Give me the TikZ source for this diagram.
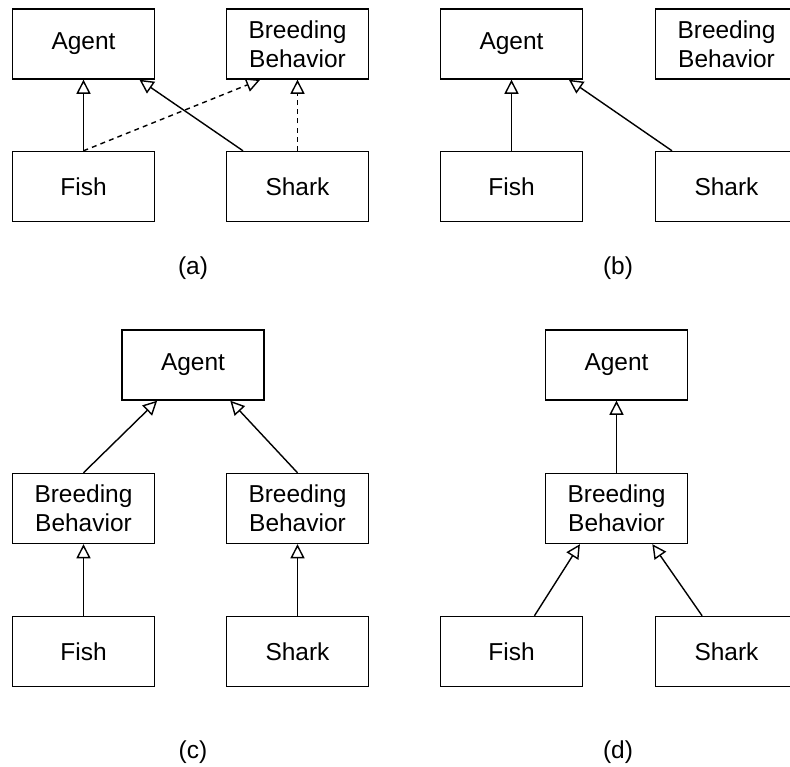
\documentclass[tikz,border=0pt]{standalone}
\usepackage{fontspec}
\setmainfont{Liberation Sans}
\usetikzlibrary{arrows.meta,calc}

\begin{document}
\begin{tikzpicture}[
		x=0.025cm, y=-0.025cm,
		box/.style={draw, line width=1pt, minimum width=3.55cm, minimum height=1.75cm, inner sep=0pt, align=center, font=\fontsize{17.4}{20.6}\selectfont},
		inherit/.style={-{Triangle[open, length=10pt, width=10pt]}, line width=1pt},
		realize/.style={inherit, dash pattern=on 3.5pt off 3pt},
		caption/.style={font=\fontsize{17.4}{20.6}\selectfont},
		]
		\clip (0,0) rectangle (790,767);
		
		%(a)
		\node[box] (agentA) at (83.5,44) {Agent};
		\node[box] (breedA) at (297.5,44) {Breeding\\Behavior};
		\node[box] (fishA) at (83.5,186.5) {Fish};
		\node[box] (sharkA) at (297.5,186.5) {Shark};
		\node[caption] (capA) at (193,268) {(a)};
		\draw[inherit] (fishA.north) -- (agentA.south);
		\draw[inherit] ($(sharkA.north west)!0.12!(sharkA.north east)$) -- ($(agentA.south west)!0.89!(agentA.south east)$);
		\draw[realize] (fishA.north) -- ($(breedA.south west)!0.24!(breedA.south east)$);
		\draw[realize] (sharkA.north) -- (breedA.south);
		
		%(b)
		\node[box] (agentB) at (511.5,44) {Agent};
		\node[box] (breedB) at (726.5,44) {Breeding\\Behavior};
		\node[box] (fishB) at (511.5,186.5) {Fish};
		\node[box] (sharkB) at (726.5,186.5) {Shark};
		\node[caption] (capB) at (618,268) {(b)};
		\draw[inherit] (fishB.north) -- (agentB.south);
		\draw[inherit] ($(sharkB.north west)!0.12!(sharkB.north east)$) -- ($(agentB.south west)!0.9!(agentB.south east)$);
		
		%(c)
		\node[box] (agentC) at (193,365) {Agent};
		\node[box] (breedC1) at (83.5,508.5) {Breeding\\Behavior};
		\node[box] (breedC2) at (297.5,508.5) {Breeding\\Behavior};
		\node[box] (fishC) at (83.5,651.5) {Fish};
		\node[box] (sharkC) at (297.5,651.5) {Shark};
		\node[caption] (capC) at (193,752) {(c)};
		\draw[inherit] (breedC1.north) -- ($(agentC.south west)!0.25!(agentC.south east)$);
		\draw[inherit] (breedC2.north) -- ($(agentC.south west)!0.76!(agentC.south east)$);
		\draw[inherit] (fishC.north) -- (breedC1.south);
		\draw[inherit] (sharkC.north) -- (breedC2.south);
		
		%(d)
		\node[box] (agentD) at (616.5,365) {Agent};
		\node[box] (breedD) at (616.5,508.5) {Breeding\\Behavior};
		\node[box] (fishD) at (511.5,651.5) {Fish};
		\node[box] (sharkD) at (726.5,651.5) {Shark};
		\node[caption] (capD) at (618,752) {(d)};
		\draw[inherit] (breedD.north) -- (agentD.south);
		\draw[inherit] ($(fishD.north west)!0.66!(fishD.north east)$) -- ($(breedD.south west)!0.245!(breedD.south east)$);
		\draw[inherit] ($(sharkD.north west)!0.33!(sharkD.north east)$) -- ($(breedD.south west)!0.75!(breedD.south east)$);
	\end{tikzpicture}
\end{document}
